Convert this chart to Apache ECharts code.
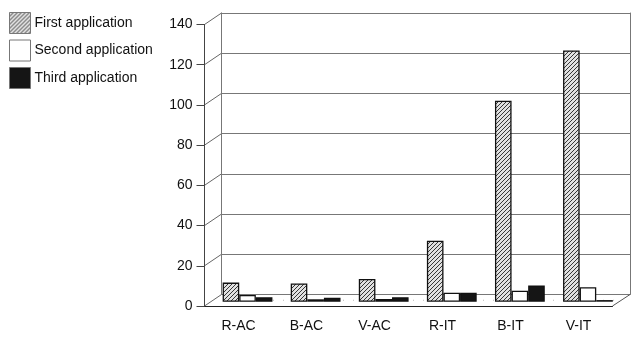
<!DOCTYPE html>
<html><head><meta charset="utf-8">
<script src="https://cdn.jsdelivr.net/npm/echarts@6/dist/echarts.min.js"></script>
<style>html,body{margin:0;padding:0;background:#fff}#c{width:640px;height:342px}</style>
</head><body><div id="c"></div>
<script>
const categories = ['R-AC','B-AC','V-AC','R-IT','B-IT','V-IT'];
const seriesNames = ['First application','Second application','Third application'];
const firstApp  = [9.5, 9.1, 11.3, 30.3, 100, 125];
const secondApp = [3.3, 1.2, 1.3, 4.5, 5.5, 7.2];
const thirdApp  = [2.2, 2.0, 2.2, 4.5, 8.0, 0.8];
const yTicks = [0,20,40,60,80,100,120,140];

// hatch pattern
const pc = document.createElement('canvas'); pc.width = 4; pc.height = 4;
const pctx = pc.getContext('2d');
const img = pctx.createImageData(4,4);
for (let y=0;y<4;y++) for (let x=0;x<4;x++){
  const i=(y*4+x)*4; const dark=((x+y)%4===3);
  const c = dark?55:225;
  img.data[i]=c;img.data[i+1]=c;img.data[i+2]=c;img.data[i+3]=255;
}
pctx.putImageData(img,0,0);
const hatch = {image: pc, repeat:'repeat'};

const FONT = 'Liberation Sans, Arial, sans-serif';
const F = {left:204.5, right:612.5, top:24.5, bottom:306};
const B = {left:221.5, right:630, top:13, bottom:294.5};
const M = {left:213.5, right:622, top:20.3, bottom:301.7};
function gridOf(r){return {left:r.left, top:r.top, width:r.right-r.left, height:r.bottom-r.top, containLabel:false};}
const yMax = yTicks[yTicks.length-1], yInt = yTicks[1]-yTicks[0];

const chart = echarts.init(document.getElementById('c'), null, {renderer:'canvas'});
const barBase = {type:'bar', xAxisIndex:2, yAxisIndex:2, barWidth:16.6, barGap:'0%'};
chart.setOption({
  animation:false,
  backgroundColor:'#fff',
  grid:[gridOf(F), gridOf(B), gridOf(M)],
  legend:{orient:'vertical', left:9, top:12, padding:0, itemWidth:21, itemHeight:21, itemGap:5.5,
    icon:'rect', textStyle:{fontFamily:FONT, fontSize:14, color:'#111', padding:[0,0,0,-1]},
    itemStyle:{borderColor:'#777', borderWidth:1},
    data:seriesNames},
  xAxis:[
    {type:'category', gridIndex:0, data:categories,
     axisLine:{lineStyle:{color:'#222', width:1}},
     axisTick:{alignWithLabel:true, length:9, lineStyle:{color:'#444'}},
     axisLabel:{margin:13, fontFamily:FONT, fontSize:14, color:'#111'}},
    {type:'category', gridIndex:1, data:categories, show:false},
    {type:'category', gridIndex:2, data:categories, show:false}
  ],
  yAxis:[
    {type:'value', gridIndex:0, min:0, max:yMax, interval:yInt,
     axisLine:{show:true, lineStyle:{color:'#444'}},
     axisTick:{show:true, length:8, lineStyle:{color:'#444'}},
     axisLabel:{margin:12, fontFamily:FONT, fontSize:14, color:'#111'},
     splitLine:{show:false}},
    {type:'value', gridIndex:1, min:0, max:yMax, interval:yInt,
     axisLine:{show:true, lineStyle:{color:'#777'}},
     axisTick:{show:false}, axisLabel:{show:false},
     splitLine:{show:true, lineStyle:{color:'#777', width:1}}},
    {type:'value', gridIndex:2, min:0, max:yMax, interval:yInt, show:false},
    {type:'value', gridIndex:1, min:0, max:yMax, interval:yInt, position:'right',
     axisLine:{show:true, lineStyle:{color:'#777'}},
     axisTick:{show:false}, axisLabel:{show:false}, splitLine:{show:false}}
  ],
  series:[
    Object.assign({}, barBase, {name:seriesNames[0], data:firstApp, itemStyle:{color:hatch, borderColor:'#111', borderWidth:1.3}}),
    Object.assign({}, barBase, {name:seriesNames[1], data:secondApp, itemStyle:{color:'#fff', borderColor:'#111', borderWidth:1.3}}),
    Object.assign({}, barBase, {name:seriesNames[2], data:thirdApp, itemStyle:{color:'#151515', borderColor:'#111', borderWidth:1.3}})
  ]
});

// side wall / floor diagonals computed from the axes
const lines = [];
yTicks.forEach(v=>{
  const yf = chart.convertToPixel({yAxisIndex:0}, v);
  const yb = chart.convertToPixel({yAxisIndex:1}, v);
  lines.push({type:'line', shape:{x1:F.left, y1:yf, x2:B.left, y2:yb}, style:{stroke:'#666', lineWidth:1}, z:0});
});
const yf0 = chart.convertToPixel({yAxisIndex:0}, 0);
const yb0 = chart.convertToPixel({yAxisIndex:1}, 0);
lines.push({type:'line', shape:{x1:F.right, y1:yf0, x2:B.right, y2:yb0}, style:{stroke:'#555', lineWidth:1}, z:0});
lines.push({type:'line', shape:{x1:(F.left+B.left)/2, y1:(yf0+yb0)/2, x2:(F.right+B.right)/2, y2:(yf0+yb0)/2},
  style:{stroke:'#bbb', lineWidth:1, lineDash:[1,9]}, z:0});
chart.setOption({graphic:lines});
</script></body></html>
